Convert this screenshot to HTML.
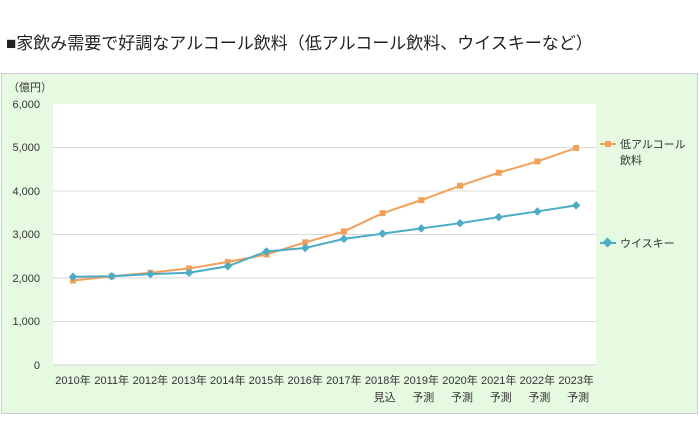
<!DOCTYPE html><html><head><meta charset="utf-8"><style>
body{margin:0;width:700px;height:418px;background:#fff;overflow:hidden;font-family:"Liberation Sans","Noto Sans CJK JP",sans-serif}
</style></head><body>
<svg width="700" height="418" xmlns="http://www.w3.org/2000/svg" font-family="Liberation Sans, Noto Sans CJK JP, sans-serif">
<text x="6" y="49" font-size="17" fill="#222">■家飲み需要で好調なアルコール飲料（低アルコール飲料、ウイスキーなど）</text>
<rect x="1.5" y="73.5" width="696" height="340" fill="#e6fae1" stroke="#ccd" stroke-width="1"/>
<rect x="53" y="104" width="543" height="260" fill="#fff"/>
<g stroke="#d9d9d9" stroke-width="1">
<line x1="53" x2="596" y1="147.5" y2="147.5"/><line x1="53" x2="596" y1="191" y2="191"/>
<line x1="53" x2="596" y1="234.5" y2="234.5"/><line x1="53" x2="596" y1="278" y2="278"/>
<line x1="53" x2="596" y1="321.5" y2="321.5"/><line x1="53" x2="596" y1="365" y2="365"/>
</g>
<g font-size="11" fill="#333" text-anchor="end">
<text x="40" y="108">6,000</text><text x="40" y="151">5,000</text><text x="40" y="195">4,000</text>
<text x="40" y="238">3,000</text><text x="40" y="282">2,000</text><text x="40" y="325">1,000</text><text x="40" y="369">0</text>
</g>
<text x="8" y="91" font-size="11" fill="#333">（億円）</text>
<g font-size="11" fill="#333" text-anchor="middle" id="xl"></g>
<polyline id="o" fill="none" stroke="#f0a05a" stroke-width="2"/>
<polyline id="t" fill="none" stroke="#4bacc6" stroke-width="2"/>
<g id="m"></g>
<line x1="600" x2="616" y1="144" y2="144" stroke="#f0a05a" stroke-width="2"/>
<rect x="605" y="141" width="6" height="6" fill="#f0a05a"/>
<text x="620" y="148" font-size="11" fill="#333">低アルコール</text>
<text x="620" y="164" font-size="11" fill="#333">飲料</text>
<line x1="600" x2="616" y1="243" y2="243" stroke="#4bacc6" stroke-width="2"/>
<rect x="604" y="239" width="7" height="7" fill="#4bacc6" transform="rotate(45 607.5 242.5)"/>
<text x="620" y="247" font-size="11" fill="#333">ウイスキー</text>
</svg>
<script>
var o=[1940,2040,2120,2220,2370,2540,2820,3070,3490,3790,4120,4420,4680,4990];
var t=[2030,2040,2090,2120,2270,2610,2690,2900,3020,3140,3260,3400,3530,3670];
function X(i){return 73+i*38.7}function Y(v){return 365-v*261/6000}
document.getElementById('o').setAttribute('points',o.map((v,i)=>X(i)+','+Y(v)).join(' '));
document.getElementById('t').setAttribute('points',t.map((v,i)=>X(i)+','+Y(v)).join(' '));
var m='',xl='';
o.forEach((v,i)=>{m+='<rect x="'+(X(i)-3)+'" y="'+(Y(v)-3)+'" width="6" height="6" fill="#f0a05a"/>'});
t.forEach((v,i)=>{var x=X(i),y=Y(v);m+='<rect x="'+(x-3)+'" y="'+(y-3)+'" width="6" height="6" fill="#4bacc6" transform="rotate(45 '+x+' '+y+')"/>'});
for(var i=0;i<14;i++){xl+='<text x="'+X(i)+'" y="384">'+(2010+i)+'年</text>';
if(i==8)xl+='<text x="'+(X(i)+2)+'" y="401">見込</text>';if(i>8)xl+='<text x="'+(X(i)+2)+'" y="401">予測</text>';}
document.getElementById('m').innerHTML=m;document.getElementById('xl').innerHTML=xl;
</script>
</body></html>
